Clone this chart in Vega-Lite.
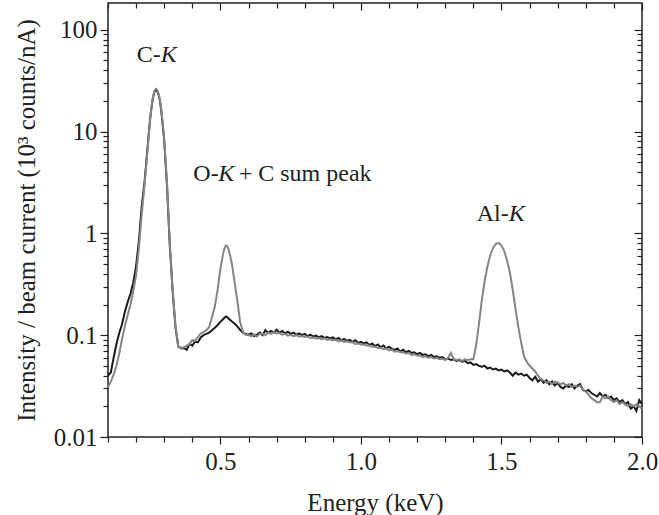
{
 "$schema": "https://vega.github.io/schema/vega-lite/v6.json",
 "width": 534, "height": 434,
 "autosize": {"type": "none"},
 "padding": {"left": 108, "top": 3, "right": 17, "bottom": 78},
 "background": "white",
 "config": {
  "view": {"stroke": "#231f20", "strokeWidth": 1.5},
  "font": "Liberation Serif, Times New Roman, Times, serif",
  "axis": {"grid": false, "domain": false, "labelFont": "Liberation Serif, Times New Roman, Times, serif", "titleFont": "Liberation Serif, Times New Roman, Times, serif", "labelFontSize": 25, "titleFontSize": 25, "titleFontWeight": "normal", "labelColor": "#231f20", "titleColor": "#231f20", "tickColor": "#231f20", "tickWidth": 1.2}
 },
 "datasets": {
  "spec": [
   {"e":0.10,"b":0.040,"g":0.031},{"e":0.11,"b":0.043,"g":0.035},{"e":0.12,"b":0.060,"g":0.041},{"e":0.13,"b":0.082,"g":0.050},
   {"e":0.14,"b":0.105,"g":0.066},{"e":0.15,"b":0.128,"g":0.092},{"e":0.16,"b":0.170,"g":0.122},{"e":0.17,"b":0.212,"g":0.158},
   {"e":0.18,"b":0.255,"g":0.200},{"e":0.19,"b":0.330,"g":0.270},{"e":0.20,"b":0.480,"g":0.390},{"e":0.21,"b":0.85,"g":0.72},
   {"e":0.22,"b":1.85,"g":1.55},{"e":0.23,"b":3.2,"g":3.0},{"e":0.24,"b":6.6,"g":6.3},{"e":0.25,"b":13.5,"g":13.2},
   {"e":0.255,"b":17.5,"g":17.5},{"e":0.26,"b":21.5,"g":21.8},{"e":0.265,"b":24.5,"g":25},{"e":0.27,"b":25.5,"g":26.3},
   {"e":0.275,"b":25,"g":25.8},{"e":0.28,"b":23,"g":23.5},{"e":0.285,"b":20,"g":20.5},{"e":0.29,"b":15.5,"g":16},
   {"e":0.30,"b":8.2,"g":8.4},{"e":0.31,"b":2.9,"g":3.1},{"e":0.32,"b":0.75,"g":0.78},{"e":0.33,"b":0.27,"g":0.28},
   {"e":0.34,"b":0.12,"g":0.125},{"e":0.35,"b":0.078,"g":0.077},{"e":0.36,"b":0.074,"g":0.075},{"e":0.37,"b":0.075,"g":0.076},
   {"e":0.38,"b":0.072,"g":0.079},{"e":0.39,"b":0.082,"g":0.082},{"e":0.40,"b":0.079,"g":0.090},{"e":0.41,"b":0.087,"g":0.088},
   {"e":0.42,"b":0.085,"g":0.096},{"e":0.43,"b":0.095,"g":0.104},{"e":0.44,"b":0.100,"g":0.107},{"e":0.45,"b":0.103,"g":0.112},
   {"e":0.46,"b":0.106,"g":0.120},{"e":0.47,"b":0.112,"g":0.150},{"e":0.48,"b":0.118,"g":0.19},{"e":0.49,"b":0.126,"g":0.28},
   {"e":0.50,"b":0.135,"g":0.45},{"e":0.51,"b":0.144,"g":0.64},{"e":0.515,"b":0.149,"g":0.72},{"e":0.52,"b":0.153,"g":0.76},
   {"e":0.525,"b":0.150,"g":0.74},{"e":0.53,"b":0.145,"g":0.68},{"e":0.54,"b":0.137,"g":0.52},{"e":0.55,"b":0.130,"g":0.34},
   {"e":0.56,"b":0.122,"g":0.22},{"e":0.57,"b":0.113,"g":0.135},{"e":0.58,"b":0.106,"g":0.108},{"e":0.59,"b":0.103,"g":0.101},
   {"e":0.60,"b":0.101,"g":0.100},{"e":0.61,"b":0.104,"g":0.098},{"e":0.62,"b":0.098,"g":0.102},{"e":0.63,"b":0.101,"g":0.097},
   {"e":0.64,"b":0.106,"g":0.103},{"e":0.65,"b":0.100,"g":0.104},{"e":0.66,"b":0.112,"g":0.100},{"e":0.67,"b":0.105,"g":0.106},
   {"e":0.68,"b":0.110,"g":0.103},{"e":0.69,"b":0.106,"g":0.107},{"e":0.70,"b":0.113,"g":0.104},{"e":0.71,"b":0.106,"g":0.105},
   {"e":0.72,"b":0.110,"g":0.101},{"e":0.73,"b":0.104,"g":0.103},{"e":0.74,"b":0.108,"g":0.099},{"e":0.75,"b":0.103,"g":0.101},
   {"e":0.76,"b":0.106,"g":0.098},{"e":0.77,"b":0.101,"g":0.100},{"e":0.78,"b":0.104,"g":0.097},{"e":0.79,"b":0.100,"g":0.098},
   {"e":0.80,"b":0.103,"g":0.096},{"e":0.81,"b":0.098,"g":0.097},{"e":0.82,"b":0.101,"g":0.094},{"e":0.83,"b":0.097,"g":0.095},
   {"e":0.84,"b":0.099,"g":0.093},{"e":0.85,"b":0.095,"g":0.094},{"e":0.86,"b":0.098,"g":0.091},{"e":0.87,"b":0.094,"g":0.093},
   {"e":0.88,"b":0.096,"g":0.090},{"e":0.89,"b":0.093,"g":0.091},{"e":0.90,"b":0.095,"g":0.089},{"e":0.91,"b":0.091,"g":0.090},
   {"e":0.92,"b":0.094,"g":0.087},{"e":0.93,"b":0.089,"g":0.089},{"e":0.94,"b":0.092,"g":0.086},{"e":0.95,"b":0.088,"g":0.087},
   {"e":0.96,"b":0.090,"g":0.085},{"e":0.97,"b":0.086,"g":0.085},{"e":0.98,"b":0.089,"g":0.082},{"e":0.99,"b":0.084,"g":0.083},
   {"e":1.00,"b":0.086,"g":0.081},{"e":1.01,"b":0.083,"g":0.081},{"e":1.02,"b":0.085,"g":0.079},{"e":1.03,"b":0.080,"g":0.079},
   {"e":1.04,"b":0.083,"g":0.077},{"e":1.05,"b":0.078,"g":0.077},{"e":1.06,"b":0.081,"g":0.075},{"e":1.07,"b":0.076,"g":0.075},
   {"e":1.08,"b":0.079,"g":0.073},{"e":1.09,"b":0.074,"g":0.074},{"e":1.10,"b":0.077,"g":0.071},{"e":1.11,"b":0.073,"g":0.072},
   {"e":1.12,"b":0.072,"g":0.069},{"e":1.13,"b":0.074,"g":0.070},{"e":1.14,"b":0.069,"g":0.068},{"e":1.15,"b":0.072,"g":0.068},
   {"e":1.16,"b":0.068,"g":0.066},{"e":1.17,"b":0.070,"g":0.067},{"e":1.18,"b":0.067,"g":0.064},{"e":1.19,"b":0.068,"g":0.065},
   {"e":1.20,"b":0.065,"g":0.063},{"e":1.21,"b":0.067,"g":0.063},{"e":1.22,"b":0.064,"g":0.061},{"e":1.23,"b":0.065,"g":0.062},
   {"e":1.24,"b":0.062,"g":0.060},{"e":1.25,"b":0.064,"g":0.061},{"e":1.26,"b":0.061,"g":0.059},{"e":1.27,"b":0.062,"g":0.060},
   {"e":1.28,"b":0.060,"g":0.058},{"e":1.29,"b":0.061,"g":0.059},{"e":1.30,"b":0.058,"g":0.057},{"e":1.31,"b":0.059,"g":0.060},
   {"e":1.32,"b":0.057,"g":0.067},{"e":1.33,"b":0.058,"g":0.058},{"e":1.34,"b":0.056,"g":0.057},{"e":1.35,"b":0.057,"g":0.058},
   {"e":1.36,"b":0.055,"g":0.056},{"e":1.37,"b":0.056,"g":0.058},{"e":1.38,"b":0.053,"g":0.057},{"e":1.39,"b":0.054,"g":0.058},
   {"e":1.40,"b":0.051,"g":0.058},{"e":1.41,"b":0.052,"g":0.080},{"e":1.42,"b":0.050,"g":0.13},{"e":1.43,"b":0.049,"g":0.22},
   {"e":1.44,"b":0.050,"g":0.34},{"e":1.45,"b":0.047,"g":0.47},{"e":1.46,"b":0.048,"g":0.61},{"e":1.47,"b":0.046,"g":0.72},
   {"e":1.48,"b":0.047,"g":0.79},{"e":1.49,"b":0.045,"g":0.805},{"e":1.50,"b":0.046,"g":0.76},{"e":1.51,"b":0.044,"g":0.67},
   {"e":1.52,"b":0.045,"g":0.54},{"e":1.53,"b":0.043,"g":0.41},{"e":1.54,"b":0.040,"g":0.28},{"e":1.55,"b":0.043,"g":0.18},
   {"e":1.56,"b":0.041,"g":0.12},{"e":1.57,"b":0.042,"g":0.085},{"e":1.58,"b":0.040,"g":0.062},{"e":1.59,"b":0.041,"g":0.055},
   {"e":1.60,"b":0.038,"g":0.050},{"e":1.61,"b":0.036,"g":0.047},{"e":1.62,"b":0.039,"g":0.044},{"e":1.63,"b":0.035,"g":0.040},
   {"e":1.64,"b":0.037,"g":0.037},{"e":1.65,"b":0.034,"g":0.036},{"e":1.66,"b":0.036,"g":0.034},{"e":1.67,"b":0.033,"g":0.035},
   {"e":1.68,"b":0.035,"g":0.033},{"e":1.69,"b":0.032,"g":0.035},{"e":1.70,"b":0.034,"g":0.034},{"e":1.71,"b":0.031,"g":0.033},
   {"e":1.72,"b":0.030,"g":0.034},{"e":1.73,"b":0.032,"g":0.032},{"e":1.74,"b":0.031,"g":0.033},{"e":1.75,"b":0.033,"g":0.031},
   {"e":1.76,"b":0.030,"g":0.032},{"e":1.77,"b":0.032,"g":0.031},{"e":1.78,"b":0.033,"g":0.032},{"e":1.79,"b":0.029,"g":0.029},
   {"e":1.80,"b":0.028,"g":0.028},{"e":1.81,"b":0.029,"g":0.026},{"e":1.82,"b":0.027,"g":0.024},{"e":1.83,"b":0.026,"g":0.023},
   {"e":1.84,"b":0.025,"g":0.022},{"e":1.85,"b":0.027,"g":0.022},{"e":1.86,"b":0.025,"g":0.025},{"e":1.87,"b":0.026,"g":0.024},
   {"e":1.88,"b":0.024,"g":0.025},{"e":1.89,"b":0.025,"g":0.023},{"e":1.90,"b":0.023,"g":0.022},{"e":1.91,"b":0.024,"g":0.023},
   {"e":1.92,"b":0.022,"g":0.021},{"e":1.93,"b":0.023,"g":0.022},{"e":1.94,"b":0.021,"g":0.021},{"e":1.95,"b":0.022,"g":0.020},
   {"e":1.96,"b":0.019,"g":0.021},{"e":1.97,"b":0.020,"g":0.020},{"e":1.98,"b":0.018,"g":0.021},{"e":1.99,"b":0.023,"g":0.020},
   {"e":2.00,"b":0.021,"g":0.019}
  ],
  "labn": [
   {"e":0.202,"v":47.8,"t":"C-"},
   {"e":0.4036,"v":3.263,"t":"O-"},
   {"e":0.565,"v":3.263,"t":"+ C sum peak"},
   {"e":1.412,"v":1.32,"t":"Al-"}
  ],
  "labi": [
   {"e":0.2877,"v":47.8,"t":"K"},
   {"e":0.4925,"v":3.263,"t":"K"},
   {"e":1.526,"v":1.32,"t":"K"}
  ]
 },
 "layer": [
  {
   "data": {"name": "spec"},
   "mark": {"type": "line", "color": "#1a1a1a", "strokeWidth": 2},
   "encoding": {
    "x": {"field": "e", "type": "quantitative", "scale": {"domain": [0.1, 2.0], "nice": false, "zero": false},
     "axis": {"orient": "bottom", "values": [0.5, 1, 1.5, 2], "format": ".1f", "tickSize": 7, "labelPadding": 5, "labelFlush": false, "title": "Energy (keV)", "titlePadding": 16}},
    "y": {"field": "b", "type": "quantitative", "scale": {"type": "log", "domain": [0.01, 183], "nice": false},
     "axis": {"orient": "left", "values": [0.01, 0.1, 1, 10, 100], "format": "~g", "tickSize": 8, "labelPadding": 3, "title": "Intensity / beam current (10³ counts/nA)", "titlePadding": 14}}
   }
  },
  {
   "data": {"name": "spec"},
   "mark": {"type": "line", "color": "#858585", "strokeWidth": 2},
   "encoding": {
    "x": {"field": "e", "type": "quantitative", "scale": {"domain": [0.1, 2.0], "nice": false, "zero": false},
     "axis": {"orient": "bottom", "values": [0.1,0.2,0.3,0.4,0.6,0.7,0.8,0.9,1.1,1.2,1.3,1.4,1.6,1.7,1.8,1.9], "tickSize": 5, "labels": false, "title": null}},
    "y": {"field": "g", "type": "quantitative", "scale": {"type": "log", "domain": [0.01, 183], "nice": false},
     "axis": {"orient": "left", "values": [0.02,0.03,0.04,0.05,0.06,0.07,0.08,0.09,0.2,0.3,0.4,0.5,0.6,0.7,0.8,0.9,2,3,4,5,6,7,8,9,20,30,40,50,60,70,80,90], "tickSize": 5, "labels": false, "title": null}}
   }
  },
  {
   "data": {"name": "spec"},
   "mark": {"type": "line", "strokeOpacity": 0},
   "encoding": {
    "x": {"field": "e", "type": "quantitative", "scale": {"domain": [0.1, 2.0], "nice": false, "zero": false},
     "axis": {"orient": "top", "values": [0.1,0.2,0.3,0.4,0.6,0.7,0.8,0.9,1.1,1.2,1.3,1.4,1.6,1.7,1.8,1.9], "tickSize": -5, "labels": false, "title": null}},
    "y": {"field": "b", "type": "quantitative", "scale": {"type": "log", "domain": [0.01, 183], "nice": false},
     "axis": {"orient": "right", "values": [0.01, 0.1, 1, 10, 100], "tickSize": -8, "labels": false, "title": null}}
   }
  },
  {
   "data": {"name": "spec"},
   "mark": {"type": "line", "strokeOpacity": 0},
   "encoding": {
    "x": {"field": "e", "type": "quantitative", "scale": {"domain": [0.1, 2.0], "nice": false, "zero": false},
     "axis": {"orient": "top", "values": [0.5, 1, 1.5, 2], "tickSize": -7, "labels": false, "title": null}},
    "y": {"field": "b", "type": "quantitative", "scale": {"type": "log", "domain": [0.01, 183], "nice": false},
     "axis": {"orient": "right", "values": [0.02,0.03,0.04,0.05,0.06,0.07,0.08,0.09,0.2,0.3,0.4,0.5,0.6,0.7,0.8,0.9,2,3,4,5,6,7,8,9,20,30,40,50,60,70,80,90], "tickSize": -5, "labels": false, "title": null}}
   }
  },
  {
   "data": {"name": "labn"},
   "mark": {"type": "text", "align": "left", "baseline": "alphabetic", "font": "Liberation Serif, Times New Roman, Times, serif", "fontSize": 24, "color": "#231f20"},
   "encoding": {
    "x": {"field": "e", "type": "quantitative", "scale": {"domain": [0.1, 2.0], "nice": false, "zero": false}, "axis": null},
    "y": {"field": "v", "type": "quantitative", "scale": {"type": "log", "domain": [0.01, 183], "nice": false}, "axis": null},
    "text": {"field": "t"}
   }
  },
  {
   "data": {"name": "labi"},
   "mark": {"type": "text", "align": "left", "baseline": "alphabetic", "font": "Liberation Serif, Times New Roman, Times, serif", "fontSize": 24, "fontStyle": "italic", "color": "#231f20"},
   "encoding": {
    "x": {"field": "e", "type": "quantitative", "scale": {"domain": [0.1, 2.0], "nice": false, "zero": false}, "axis": null},
    "y": {"field": "v", "type": "quantitative", "scale": {"type": "log", "domain": [0.01, 183], "nice": false}, "axis": null},
    "text": {"field": "t"}
   }
  }
 ],
 "resolve": {"axis": {"x": "independent", "y": "independent"}}
}
